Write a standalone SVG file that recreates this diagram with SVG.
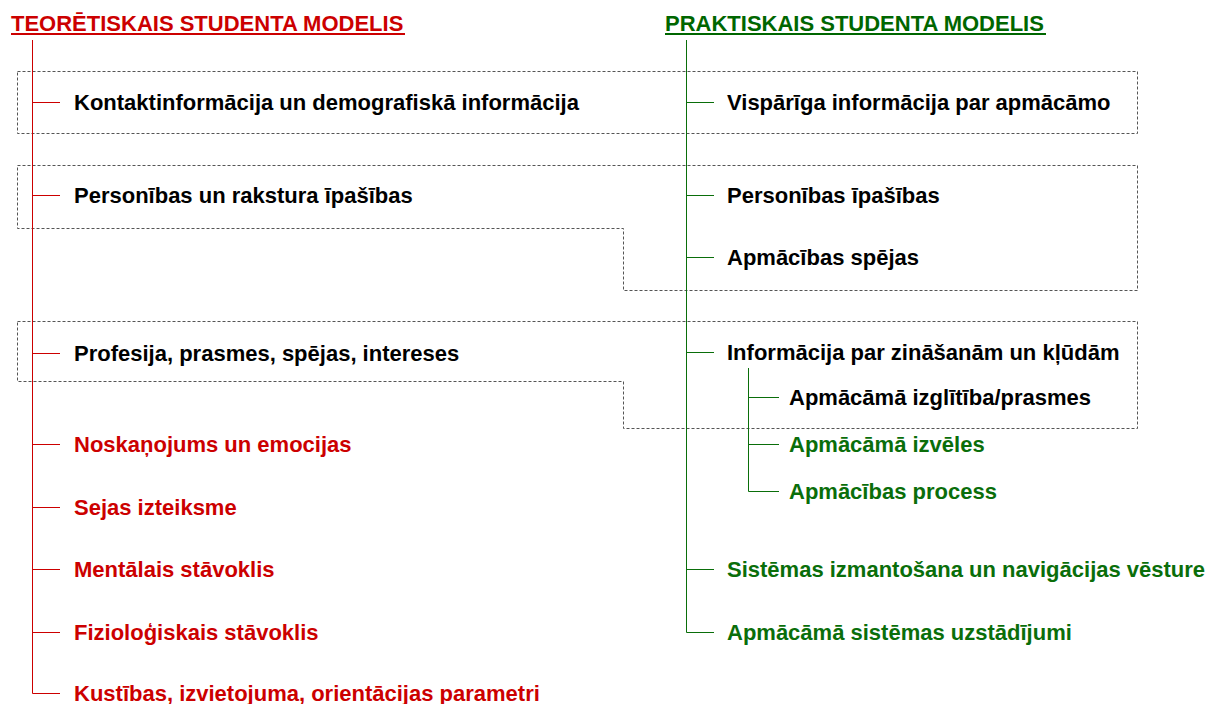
<svg xmlns="http://www.w3.org/2000/svg" width="1205" height="704" viewBox="0 0 1205 704">
<style>
text{font-family:"Liberation Sans",Arial,sans-serif;font-weight:bold;font-size:22px}
.k{fill:#000}
.r{fill:#CC0000}
.g{fill:#0A6E0A}
.rl{stroke:#CC0000;stroke-width:1;fill:none}
.gl{stroke:#0A6E0A;stroke-width:1;fill:none}
.box{stroke:#555;stroke-width:1;stroke-dasharray:3,2;fill:none}
</style>
<rect width="1205" height="704" fill="#fff"/>
<g id="groups">
<path class="box" d="M17.5 71.5H1137.5V133.5H17.5Z"/>
<path class="box" d="M17.5 165.5H1137.5V290.5H623.5V228.5H17.5Z"/>
<path class="box" d="M17.5 321.5H1137.5V428.5H623.5V381.5H17.5Z"/>
</g>
<g id="connectors">
<path class="rl" d="M32.5 40V693.5H60"/>
<path class="rl" d="M32.5 102.5H60M32.5 195.5H60M32.5 353.5H60M32.5 444.5H60M32.5 507.5H60M32.5 569.5H60M32.5 632.5H60"/>
<path class="gl" d="M686.5 40V632.5H714"/>
<path class="gl" d="M686.5 102.5H714M686.5 195.5H714M686.5 257.5H714M686.5 352.5H714M686.5 569.5H714"/>
<path class="gl" d="M748.5 368V491.5H779M748.5 397.5H779M748.5 444.5H779"/>
</g>
<g id="title-left">
<text class="r" x="11" y="31">TEORĒTISKAIS STUDENTA MODELIS</text>
<rect x="11" y="33" width="394" height="2" fill="#CC0000"/>
</g>
<g id="title-right">
<text x="665" y="31" fill="#006600">PRAKTISKAIS STUDENTA MODELIS</text>
<rect x="665" y="33" width="381" height="2" fill="#006600"/>
</g>
<g id="l1"><text class="k" x="74" y="110">Kontaktinformācija un demografiskā informācija</text></g>
<g id="l2"><text class="k" x="74" y="203">Personības un rakstura īpašības</text></g>
<g id="l3"><text class="k" x="74" y="361">Profesija, prasmes, spējas, intereses</text></g>
<g id="l4"><text class="r" x="74" y="452">Noskaņojums un emocijas</text></g>
<g id="l5"><text class="r" x="74" y="515">Sejas izteiksme</text></g>
<g id="l6"><text class="r" x="74" y="577">Mentālais stāvoklis</text></g>
<g id="l7"><text class="r" x="74" y="640">Fizioloģiskais stāvoklis</text></g>
<g id="l8"><text class="r" x="74" y="701">Kustības, izvietojuma, orientācijas parametri</text></g>
<g id="r1"><text class="k" x="727" y="110">Vispārīga informācija par apmācāmo</text></g>
<g id="r2"><text class="k" x="727" y="203">Personības īpašības</text></g>
<g id="r3"><text class="k" x="727" y="265">Apmācības spējas</text></g>
<g id="r4"><text class="k" x="727" y="360">Informācija par zināšanām un kļūdām</text></g>
<g id="r4a"><text class="k" x="789" y="405">Apmācāmā izglītība/prasmes</text></g>
<g id="r4b"><text class="g" x="789" y="452">Apmācāmā izvēles</text></g>
<g id="r4c"><text class="g" x="789" y="499">Apmācības process</text></g>
<g id="r5"><text class="g" x="727" y="577">Sistēmas izmantošana un navigācijas vēsture</text></g>
<g id="r6"><text class="g" x="727" y="640">Apmācāmā sistēmas uzstādījumi</text></g>
</svg>
